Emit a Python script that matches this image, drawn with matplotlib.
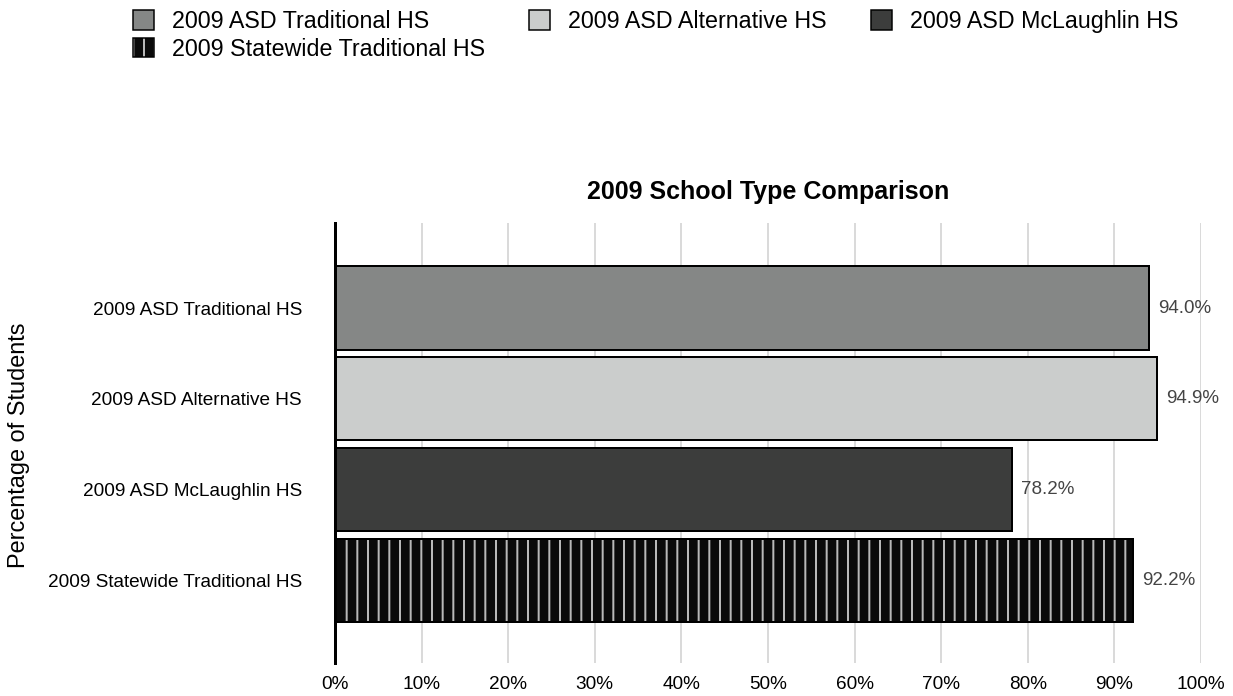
import matplotlib
matplotlib.use("Agg")
import matplotlib.pyplot as plt
from matplotlib.patches import Patch
from matplotlib.legend_handler import HandlerTuple

# data
categories = ["2009 ASD Traditional HS", "2009 ASD Alternative HS",
              "2009 ASD McLaughlin HS", "2009 Statewide Traditional HS"]
values = [94.0, 94.9, 78.2, 92.2]
colors = ["#858786", "#cbcdcc", "#3c3d3c", "#0a0a0a"]
hatches = [None, None, None, "|"]
xticks = list(range(0, 101, 10))
xticklabels = [f"{t}%" for t in xticks]

DPI = 64
W, H = 1233, 696
def pt(px):
    return px * 72.0 / DPI

plt.rcParams['font.family'] = ['Liberation Sans', 'DejaVu Sans']
plt.rcParams['hatch.linewidth'] = pt(2.0)

fig = plt.figure(figsize=(W / DPI, H / DPI), dpi=DPI)
ax = fig.add_axes([335 / W, 33 / H, 866 / W, 440 / H])

y = list(range(len(categories)))
for i in y:
    if hatches[i]:
        ax.barh(y[i], values[i], height=0.915, color=colors[i], edgecolor="#b8b8b8",
                hatch=hatches[i], linewidth=0, zorder=2)
bars = ax.barh(y, values, height=0.915, color=[c if h is None else "none" for c, h in zip(colors, hatches)],
               edgecolor="black", linewidth=pt(2), zorder=3)
ax.bar_label(bars, labels=[f"{v:.1f}%" for v in values], padding=pt(9),
             fontsize=pt(18.7), color="#444444")

ax.set_ylim(3.909, -0.936)
ax.set_xlim(0, 100)
ax.set_xticks(xticks)
ax.set_xticklabels(xticklabels)
ax.set_yticks(y)
ax.set_yticklabels(categories)
ax.tick_params(axis="y", length=0, pad=pt(33), labelsize=pt(19))
ax.tick_params(axis="x", length=0, pad=pt(13), labelsize=pt(19))
ax.grid(axis="x", color="#cfcfcf", linewidth=pt(1.5), zorder=0)
ax.set_axisbelow(True)
for s in ["top", "right", "bottom"]:
    ax.spines[s].set_visible(False)
ax.spines["left"].set_linewidth(pt(3))
ax.spines["left"].set_zorder(5)

ax.set_title("2009 School Type Comparison", fontsize=pt(25), fontweight="bold", pad=pt(24))
fig.text(19 / W, 1 - 445 / H, "Percentage of Students", rotation=90,
         ha="center", va="center", fontsize=pt(23.5))

# legend: order so that statewide sits under the first column
handles = []
for c, h in zip(colors, hatches):
    if h:
        handles.append((Patch(facecolor=c, edgecolor="#b8b8b8", hatch=h, linewidth=0),
                        Patch(facecolor="none", edgecolor="black", linewidth=pt(1.5))))
    else:
        handles.append(Patch(facecolor=c, edgecolor="black", linewidth=pt(1.5)))
order = [0, 3, 1, 2]
fig.legend([handles[i] for i in order], [categories[i] for i in order],
           loc="upper left", bbox_to_anchor=(133 / W, 1 - 10 / H), ncol=3,
           frameon=False, borderaxespad=0, borderpad=0, fontsize=pt(23.2),
           handlelength=0.9, handleheight=0.9, handletextpad=0.78,
           columnspacing=1.9, labelspacing=0.2,
           handler_map={tuple: HandlerTuple(ndivide=1, pad=0)})

fig.savefig("out.png", dpi=DPI)
